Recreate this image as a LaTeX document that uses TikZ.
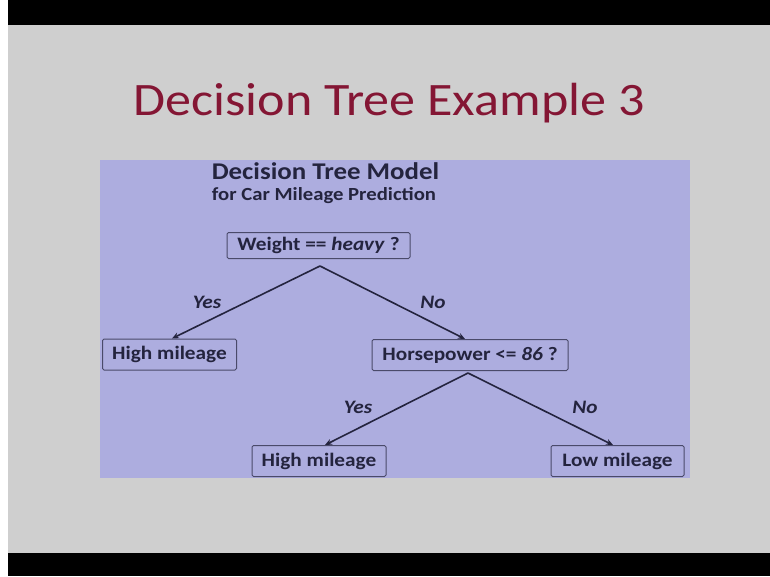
\documentclass[tikz,border=0pt]{standalone}
\usepackage{fontspec}
\setmainfont{Carlito}[FakeStretch=1.12]
\usetikzlibrary{arrows.meta}
\definecolor{slidegray}{RGB}{207,207,207}
\definecolor{panelblue}{RGB}{173,173,223}
\definecolor{titlered}{RGB}{132,22,52}
\definecolor{inkdark}{RGB}{36,36,62}
\definecolor{boxline}{RGB}{74,74,106}
\tikzset{
  treebox/.style={draw=boxline, line width=1pt, rounded corners=1.5pt,
    text=inkdark, font=\fontsize{19}{21}\selectfont\bfseries,
    minimum height=31pt, inner xsep=0pt, inner ysep=2pt},
  edge/.style={draw=inkdark, line width=1.6pt,
    -{Stealth[length=7pt,width=6pt]}},
  edgelabel/.style={text=inkdark, font=\fontsize{19}{21}\selectfont\bfseries\itshape},
  heading/.style={text=inkdark, anchor=base, inner sep=0pt}
}
\begin{document}
\begin{tikzpicture}[x=1pt,y=-1pt]
  \useasboundingbox (0,0) rectangle (770,576);
  % slide background and black bars
  \fill[white] (0,0) rectangle (770,576);
  \fill[slidegray] (8,25) rectangle (770,553);
  \fill[black] (8,0) rectangle (770,25);
  \fill[black] (8,553) rectangle (770,576);
  % title
  \node[text=titlered, font=\fontsize{46.5}{50}\selectfont, anchor=base] (title) at (389,115) {Decision Tree Example 3};
  % blue panel
  \fill[panelblue] (100,160) rectangle (690,478);
  \node[heading, font=\fontsize{24}{26}\selectfont\bfseries] (head) at (325.5,179) {Decision Tree Model};
  \node[heading, font=\fontsize{18.5}{20}\selectfont\bfseries] (sub) at (324,200) {for Car Mileage Prediction};
  % tree nodes
  \node[treebox, minimum width=183pt, minimum height=26pt] (root) at (318.5,245.5) {Weight == \textit{heavy} ?};
  \node[treebox, minimum width=134pt] (hi1) at (169.5,354.5) {High mileage};
  \node[treebox, minimum width=196pt] (hp) at (470,355) {Horsepower <= \textit{86} ?};
  \node[treebox, minimum width=134pt] (hi2) at (319,461) {High mileage};
  \node[treebox, minimum width=133pt] (lo) at (617.5,461) {Low mileage};
  % branches
  \coordinate (rootfork) at ([xshift=1.5pt,yshift=-7pt]root.south);
  \coordinate (hpfork) at ([xshift=-2pt,yshift=-2pt]hp.south);
  \draw[edge] (rootfork) -- ([xshift=2.5pt]hi1.north);
  \draw[edge] (rootfork) -- ([xshift=-5pt]hp.north);
  \draw[edge] (hpfork) -- ([xshift=6pt]hi2.north);
  \draw[edge] (hpfork) -- ([xshift=-4.5pt]lo.north);
  % branch labels
  \node[edgelabel] (y1) at (207,302) {Yes};
  \node[edgelabel] (n1) at (433,302) {No};
  \node[edgelabel] (y2) at (358,407) {Yes};
  \node[edgelabel] (n2) at (585,407) {No};
\end{tikzpicture}
\end{document}
